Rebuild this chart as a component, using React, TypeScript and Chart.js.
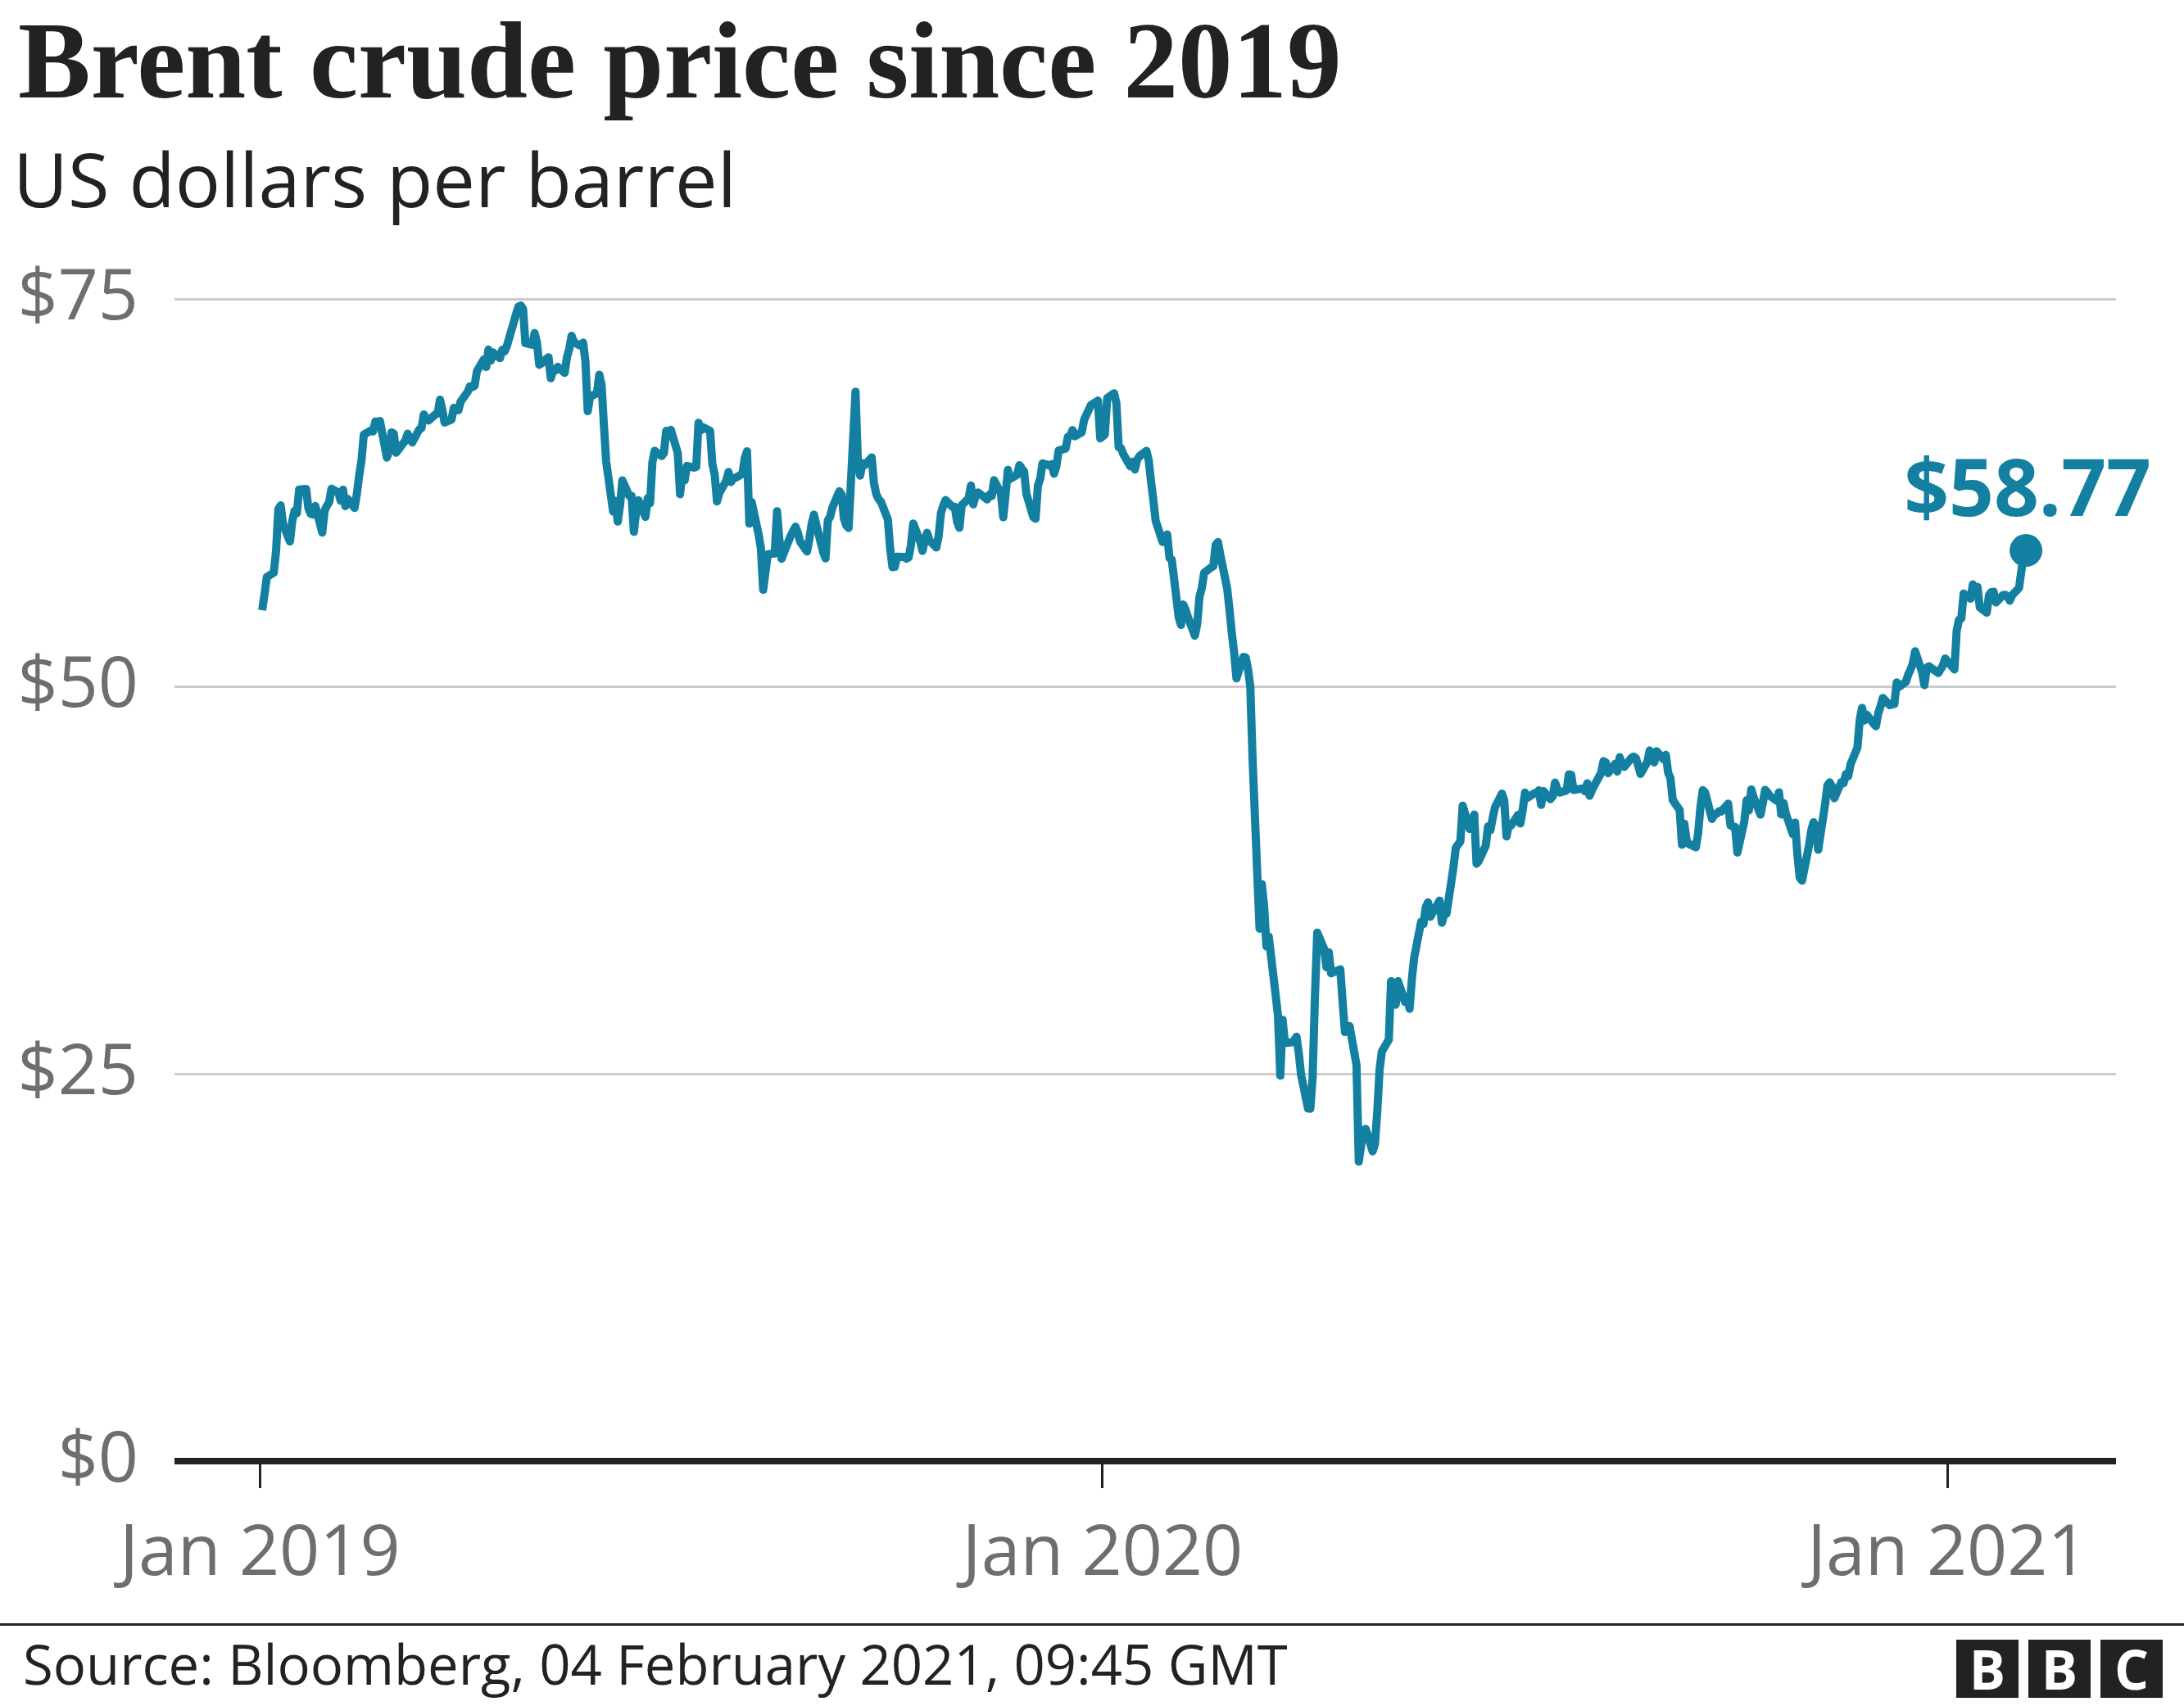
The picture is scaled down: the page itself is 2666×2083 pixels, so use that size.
import React, { useEffect, useRef } from 'react';
import { Chart, registerables } from 'chart.js';

Chart.register(...registerables);

const TITLE = 'Brent crude price since 2019';
const SUBTITLE = 'US dollars per barrel';
const SOURCE = 'Source: Bloomberg, 04 February 2021, 09:45 GMT';
const LOGO_LETTERS = ['B', 'B', 'C'];
const LINE_COLOR = '#1380a1';

const X_TICK_DATES = ['2019-01-01', '2020-01-01', '2021-01-01'];
const X_TICK_LABELS = ['Jan 2019', 'Jan 2020', 'Jan 2021'];
const X_RANGE_DATES = ['2018-11-25', '2021-03-15'];
const Y_TICKS = [0, 25, 50, 75];

// Days with no settlement (weekends are skipped too)
const HOLIDAYS = [
  '2019-01-01', '2019-04-19', '2019-12-25', '2019-12-26',
  '2020-01-01', '2020-04-10', '2020-05-25', '2020-12-25', '2021-01-01',
];

// Daily closing prices, one array per month (trading days in order)
const prices2019: number[][] = [
  [54.91, 55.95, 57.06, 57.33, 58.72, 61.44, 61.68, 60.48, 59.35, 60.64, 61.32, 61.18, 62.7, 62.74, 61.5, 61.14, 61.09, 61.64, 59.93, 61.32, 61.65, 61.89],
  [62.75, 62.51, 61.98, 62.69, 61.63, 62.1, 61.51, 62.42, 63.61, 64.57, 66.25, 66.5, 66.45, 67.08, 67.07, 67.12, 64.76, 65.21, 66.39, 66.31],
  [65.07, 65.67, 65.86, 66.3, 65.98, 65.74, 66.58, 66.67, 67.55, 67.23, 67.16, 67.54, 67.61, 68.5, 67.86, 67.03, 67.21, 67.97, 67.83, 67.82, 68.39],
  [69.01, 69.37, 69.31, 69.4, 70.34, 71.1, 70.61, 71.73, 71.02, 71.55, 71.18, 71.72, 71.62, 71.97, 74.04, 74.51, 74.57, 74.35, 72.15, 72.04, 72.8],
  [72.18, 70.75, 70.85, 71.24, 69.88, 70.37, 70.39, 70.62, 70.23, 71.24, 71.77, 72.62, 72.21, 71.97, 72.18, 70.99, 67.76, 68.69, 68.91, 70.11, 69.45, 66.87, 64.49],
  [61.28, 61.97, 60.63, 61.67, 63.29, 62.29, 62.29, 59.97, 61.31, 62.01, 60.94, 62.14, 61.82, 64.45, 65.2, 64.86, 65.05, 66.49, 66.45, 66.55],
  [65.06, 62.4, 63.82, 63.3, 64.23, 64.11, 64.16, 67.01, 66.52, 66.72, 66.48, 64.35, 63.66, 61.93, 62.47, 63.26, 63.83, 63.18, 63.39, 63.46, 63.71, 64.72, 65.17],
  [60.5, 61.89, 59.81, 58.94, 56.23, 57.38, 58.53, 58.57, 61.3, 59.48, 58.23, 58.64, 59.74, 60.03, 60.3, 59.92, 59.34, 58.7, 59.51, 60.49, 61.08, 60.43],
  [58.66, 58.26, 60.7, 60.95, 61.54, 62.59, 62.38, 60.81, 60.38, 60.22, 69.02, 64.55, 63.6, 64.4, 64.28, 64.77, 63.1, 62.39, 62.08, 61.91, 60.78],
  [58.89, 57.69, 57.71, 58.37, 58.35, 58.24, 58.32, 59.1, 60.51, 59.35, 58.74, 59.42, 59.91, 59.42, 58.96, 59.7, 61.17, 61.67, 62.02, 61.57, 61.59, 60.61, 60.23],
  [61.69, 62.13, 62.96, 61.74, 62.29, 62.51, 62.18, 62.06, 62.37, 62.28, 63.3, 62.44, 60.91, 62.4, 63.97, 63.39, 63.65, 64.27, 64.06, 63.87, 62.43],
  [60.92, 60.82, 62.96, 63.39, 64.39, 64.25, 64.34, 63.72, 64.2, 65.22, 65.34, 66.1, 66.17, 66.54, 66.14, 66.39, 67.2, 68.16, 68.44, 66.0],
];

const prices2020: number[][] = [
  [66.25, 68.6, 68.91, 68.27, 65.44, 65.37, 64.98, 64.2, 64.49, 64.0, 64.62, 64.85, 65.2, 64.59, 63.21, 62.04, 60.69, 59.32, 59.51, 59.81, 58.29, 58.16],
  [54.45, 53.96, 55.28, 54.93, 54.47, 53.27, 54.01, 55.79, 56.34, 57.32, 57.67, 57.75, 59.12, 59.31, 58.5, 56.3, 54.95, 53.43, 52.18, 50.52],
  [51.9, 51.86, 51.13, 49.99, 45.27, 34.36, 37.22, 35.79, 33.22, 33.85, 30.05, 28.73, 24.88, 28.47, 26.98, 27.03, 27.15, 27.39, 26.34, 24.93, 22.76, 22.74],
  [24.74, 29.94, 34.11, 33.05, 31.87, 32.84, 31.48, 31.74, 29.6, 27.69, 27.82, 28.08, 25.57, 19.33, 20.37, 21.33, 21.44, 19.99, 20.46, 22.54, 25.27],
  [26.44, 27.2, 30.97, 29.72, 29.46, 30.97, 29.63, 29.98, 29.19, 31.13, 32.5, 34.81, 34.65, 35.75, 36.06, 35.13, 36.17, 34.74, 35.29, 35.33],
  [38.32, 39.57, 39.79, 39.99, 42.3, 40.8, 41.18, 41.73, 38.55, 38.73, 39.72, 40.96, 40.71, 41.51, 42.19, 43.08, 42.63, 40.31, 41.05, 41.02, 41.71, 41.15],
  [42.03, 43.14, 42.8, 43.1, 43.08, 43.29, 42.35, 43.24, 42.72, 42.9, 43.79, 43.37, 43.14, 43.28, 44.32, 44.29, 43.31, 43.34, 43.41, 43.22, 43.75, 42.94, 43.3],
  [44.15, 44.43, 45.17, 45.09, 44.4, 44.99, 44.5, 45.43, 44.96, 44.8, 45.37, 45.46, 45.37, 44.9, 44.35, 45.13, 45.86, 45.64, 45.09, 45.81, 45.28],
  [45.58, 44.43, 44.07, 42.66, 42.01, 39.78, 41.14, 40.06, 39.83, 39.61, 40.53, 42.22, 43.3, 43.15, 41.44, 41.72, 41.77, 41.94, 41.92, 42.43, 41.03, 40.95],
  [40.93, 39.27, 41.29, 42.65, 41.99, 43.34, 42.85, 41.72, 42.45, 43.32, 43.16, 42.93, 42.62, 43.16, 41.73, 42.46, 41.77, 40.46, 41.2, 39.12, 37.65, 37.46],
  [39.71, 40.71, 41.23, 40.93, 39.45, 42.4, 43.61, 43.8, 43.53, 42.78, 43.82, 43.75, 44.34, 44.2, 44.96, 46.06, 47.86, 48.61, 47.8, 48.18, 47.59],
  [47.42, 48.25, 48.71, 49.25, 48.79, 48.84, 48.86, 50.25, 49.97, 50.29, 50.76, 51.08, 51.5, 52.26, 50.91, 50.08, 51.2, 51.29, 50.86, 51.09, 51.34, 51.8],
];

const prices2021: number[][] = [
  [51.09, 53.6, 54.3, 54.38, 55.99, 55.66, 56.58, 56.06, 56.42, 55.1, 54.75, 55.9, 56.08, 56.1, 55.41, 55.88, 55.91, 55.81, 55.53, 55.88],
  [56.35, 57.46, 58.46, 58.77],
];

const PRICE_YEARS: [number, number[][]][] = [
  [2019, prices2019],
  [2020, prices2020],
  [2021, prices2021],
];

const DAY_MS = 86400000;
const BASE_MS = Date.UTC(2019, 0, 1);

function dayOf(iso: string): number {
  const [y, m, d] = iso.split('-').map(Number);
  return Math.round((Date.UTC(y, m - 1, d) - BASE_MS) / DAY_MS);
}

function buildPoints(): { x: number; y: number }[] {
  const pts: { x: number; y: number }[] = [];
  for (const [year, months] of PRICE_YEARS) {
    months.forEach((vals, m) => {
      const tradingDays: number[] = [];
      const dim = new Date(Date.UTC(year, m + 1, 0)).getUTCDate();
      for (let d = 1; d <= dim; d++) {
        const dt = new Date(Date.UTC(year, m, d));
        const wd = dt.getUTCDay();
        const iso = dt.toISOString().slice(0, 10);
        if (wd === 0 || wd === 6 || HOLIDAYS.includes(iso)) continue;
        tradingDays.push(dayOf(iso));
      }
      vals.forEach((v, i) => {
        pts.push({ x: tradingDays[Math.min(i, tradingDays.length - 1)], y: v });
      });
    });
  }
  return pts;
}

const lastLabelPlugin = {
  id: 'lastLabel',
  afterDatasetsDraw(chart: any) {
    const meta = chart.getDatasetMeta(0);
    const data = chart.data.datasets[0].data as { x: number; y: number }[];
    const el = meta.data[meta.data.length - 1];
    if (!el) return;
    const v = data[data.length - 1].y;
    const ctx = chart.ctx as CanvasRenderingContext2D;
    ctx.save();
    ctx.font = '700 96px "Open Sans"';
    ctx.fillStyle = LINE_COLOR;
    ctx.textAlign = 'center';
    ctx.textBaseline = 'alphabetic';
    ctx.fillText('$' + v.toFixed(2), el.x + 2, el.y - 42);
    ctx.restore();
  },
};

export default function App() {
  const canvasRef = useRef<HTMLCanvasElement | null>(null);

  useEffect(() => {
    if (!canvasRef.current) return;
    const points = buildPoints();
    const n = points.length;
    const tickFont = { family: '"Open Sans"', size: 86 };
    const chart = new Chart(canvasRef.current, {
      type: 'line',
      data: {
        datasets: [
          {
            data: points,
            borderColor: LINE_COLOR,
            backgroundColor: LINE_COLOR,
            borderWidth: 10,
            borderJoinStyle: 'round',
            borderCapStyle: 'butt',
            tension: 0,
            fill: false,
            clip: false as any,
            pointRadius: (c: any) => (c.dataIndex === n - 1 ? 20 : 0),
            pointHoverRadius: (c: any) => (c.dataIndex === n - 1 ? 20 : 0),
            pointBackgroundColor: LINE_COLOR,
            pointBorderWidth: 0,
          },
        ],
      },
      options: {
        responsive: false,
        devicePixelRatio: 1,
        animation: false,
        events: [],
        layout: { padding: { left: 0, right: 83, top: 365, bottom: 0 } },
        plugins: {
          legend: { display: false },
          tooltip: { enabled: false },
          title: { display: false },
        },
        scales: {
          x: {
            type: 'linear',
            min: dayOf(X_RANGE_DATES[0]),
            max: dayOf(X_RANGE_DATES[1]),
            border: { display: false },
            grid: {
              display: true,
              drawOnChartArea: false,
              drawTicks: true,
              tickLength: 33,
              tickWidth: 3,
              tickColor: '#222222',
              color: '#222222',
              lineWidth: 3,
            },
            afterBuildTicks: (scale: any) => {
              scale.ticks = X_TICK_DATES.map((d) => ({ value: dayOf(d) }));
            },
            afterFit: (scale: any) => {
              scale.height = 2083 - 1784;
            },
            ticks: {
              autoSkip: false,
              maxRotation: 0,
              minRotation: 0,
              padding: 30,
              color: '#6e6e6e',
              font: tickFont,
              callback: (value: any) => {
                const i = X_TICK_DATES.findIndex((d) => dayOf(d) === value);
                return i >= 0 ? X_TICK_LABELS[i] : '';
              },
            },
          },
          y: {
            type: 'linear',
            min: Y_TICKS[0],
            max: Y_TICKS[Y_TICKS.length - 1],
            border: { display: false },
            grid: {
              drawTicks: false,
              color: (c: any) => (c.tick && c.tick.value === 0 ? '#222222' : '#cccccc'),
              lineWidth: (c: any) => (c.tick && c.tick.value === 0 ? 8 : 3),
            },
            afterBuildTicks: (scale: any) => {
              scale.ticks = Y_TICKS.map((v) => ({ value: v }));
            },
            afterFit: (scale: any) => {
              scale.width = 213;
            },
            ticks: {
              padding: 44,
              color: '#6e6e6e',
              font: tickFont,
              callback: (value: any) => '$' + value,
            },
          },
        },
      },
      plugins: [lastLabelPlugin],
    });
    return () => chart.destroy();
  }, []);

  const textBase: React.CSSProperties = {
    position: 'absolute',
    whiteSpace: 'nowrap',
    lineHeight: 1,
    margin: 0,
    color: '#222222',
  };

  return (
    <div
      style={{
        position: 'absolute',
        left: 0,
        top: 0,
        width: 2666,
        height: 2083,
        background: '#ffffff',
        overflow: 'hidden',
      }}
    >
      <canvas
        ref={canvasRef}
        width={2666}
        height={2083}
        style={{ position: 'absolute', left: 0, top: 0, width: 2666, height: 2083 }}
      />
      <div
        style={{
          ...textBase,
          left: 22,
          top: 8,
          fontFamily: '"Liberation Serif", serif',
          fontWeight: 700,
          fontSize: 133,
        }}
      >
        {TITLE}
      </div>
      <div
        style={{
          ...textBase,
          left: 16,
          top: 172,
          fontFamily: '"Open Sans", sans-serif',
          fontWeight: 400,
          fontSize: 92,
        }}
      >
        {SUBTITLE}
      </div>
      <div
        style={{
          position: 'absolute',
          left: 0,
          top: 1982,
          width: 2666,
          height: 3,
          background: '#222222',
        }}
      />
      <div
        style={{
          ...textBase,
          left: 28,
          top: 1998,
          fontFamily: '"Open Sans", sans-serif',
          fontWeight: 400,
          fontSize: 67,
        }}
      >
        {SOURCE}
      </div>
      {LOGO_LETTERS.map((ch, i) => (
        <div
          key={i}
          style={{
            position: 'absolute',
            left: 2388 + i * 88,
            top: 2002,
            width: 76,
            height: 71,
            background: '#222222',
            color: '#ffffff',
            fontFamily: '"Open Sans", sans-serif',
            fontWeight: 700,
            fontSize: 66,
            lineHeight: '71px',
            textAlign: 'center',
          }}
        >
          {ch}
        </div>
      ))}
    </div>
  );
}
